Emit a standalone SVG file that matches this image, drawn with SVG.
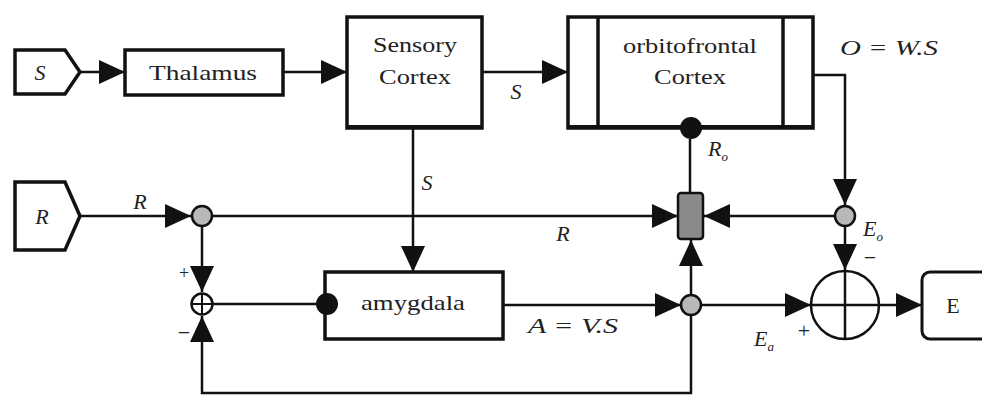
<svg xmlns="http://www.w3.org/2000/svg" width="982" height="398" viewBox="0 0 982 398" font-family="Liberation Serif, DejaVu Serif, serif">
<style>
.box{fill:#fff;stroke:#111;stroke-width:3.5}
.ln{fill:none;stroke:#111;stroke-width:2.5}
.jn{fill:#b8b8b8;stroke:#111;stroke-width:2.5}
.t{font-size:22px;fill:#222;text-anchor:middle}
.i{font-size:22px;font-style:italic;fill:#222}
.sub{font-size:13px}
</style>
<defs>
<marker id="ah" markerUnits="userSpaceOnUse" markerWidth="26" markerHeight="24" refX="26" refY="12" orient="auto">
<path d="M0,0 L26,12 L0,24 z" fill="#111"/>
</marker>
</defs>
<rect width="982" height="398" fill="#fff"/>

<g id="connectors">
<line class="ln" x1="80" y1="72" x2="125" y2="72" marker-end="url(#ah)"/>
<line class="ln" x1="283" y1="72" x2="347" y2="72" marker-end="url(#ah)"/>
<line class="ln" x1="482" y1="72" x2="568" y2="72" marker-end="url(#ah)"/>
<line class="ln" x1="413" y1="129" x2="413" y2="272" marker-end="url(#ah)"/>
<path class="ln" d="M813,75 H845 V205" marker-end="url(#ah)"/>
<line class="ln" x1="80" y1="216" x2="191" y2="216" marker-end="url(#ah)"/>
<line class="ln" x1="212" y1="216" x2="678" y2="216" marker-end="url(#ah)"/>
<line class="ln" x1="835" y1="216" x2="704" y2="216" marker-end="url(#ah)"/>
<line class="ln" x1="691" y1="295" x2="691" y2="240" marker-end="url(#ah)"/>
<line class="ln" x1="690" y1="139" x2="690" y2="193"/>
<line class="ln" x1="202" y1="226" x2="202" y2="292" marker-end="url(#ah)"/>
<path class="ln" d="M691,315 V393 H202 V316" marker-end="url(#ah)"/>
<line class="ln" x1="213" y1="304" x2="316" y2="304"/>
<line class="ln" x1="503" y1="305" x2="681" y2="305" marker-end="url(#ah)"/>
<line class="ln" x1="701" y1="305" x2="811" y2="305" marker-end="url(#ah)"/>
<line class="ln" x1="845" y1="226" x2="845" y2="270" marker-end="url(#ah)"/>
<line class="ln" x1="879" y1="305" x2="922" y2="305" marker-end="url(#ah)"/>
</g>

<g id="input-S">
<path class="box" d="M15,50 H65 L80,72 L65,94 H15 Z"/>
<text class="i" x="40" y="80" text-anchor="middle">S</text>
</g>

<g id="thalamus">
<rect class="box" x="125" y="50" width="158" height="45"/>
<text class="t" x="203" y="80" textLength="108" lengthAdjust="spacingAndGlyphs">Thalamus</text>
</g>

<g id="sensory-cortex">
<rect class="box" x="347" y="17" width="135" height="111"/>
<line x1="347" y1="127" x2="482" y2="127" stroke="#111" stroke-width="4"/>
<text class="t" x="415" y="52" textLength="84" lengthAdjust="spacingAndGlyphs">Sensory</text>
<text class="t" x="415" y="84" textLength="72" lengthAdjust="spacingAndGlyphs">Cortex</text>
</g>

<g id="orbitofrontal-cortex">
<rect class="box" x="568" y="17" width="245" height="111"/>
<line x1="568" y1="127" x2="813" y2="127" stroke="#111" stroke-width="4"/>
<line x1="598" y1="17" x2="598" y2="128" stroke="#111" stroke-width="3.5"/>
<line x1="783" y1="17" x2="783" y2="128" stroke="#111" stroke-width="3.5"/>
<text class="t" x="690" y="53" textLength="134" lengthAdjust="spacingAndGlyphs">orbitofrontal</text>
<text class="t" x="690" y="84" textLength="72" lengthAdjust="spacingAndGlyphs">Cortex</text>
<circle cx="691" cy="128" r="11" fill="#111"/>
</g>

<g id="input-R">
<path class="box" d="M15,182 H65 L80,216 L65,250 H15 Z"/>
<text class="i" x="42" y="224" text-anchor="middle">R</text>
</g>

<g id="junction-R">
<circle class="jn" cx="202" cy="216" r="10"/>
</g>

<g id="sum-amygdala">
<circle cx="202" cy="304" r="10.5" fill="#fff" stroke="#111" stroke-width="2.5"/>
<line x1="191.5" y1="304" x2="212.5" y2="304" stroke="#111" stroke-width="2"/>
<line x1="202" y1="293.5" x2="202" y2="314.5" stroke="#111" stroke-width="2"/>
</g>

<g id="amygdala">
<rect class="box" x="325" y="272" width="178" height="67"/>
<circle cx="327" cy="304" r="11" fill="#111"/>
<text class="t" x="413" y="310" textLength="104" lengthAdjust="spacingAndGlyphs">amygdala</text>
</g>

<g id="gate">
<rect x="678" y="193" width="25" height="46" rx="3" fill="#8a8a8a" stroke="#111" stroke-width="2.5"/>
</g>

<g id="junction-A">
<circle class="jn" cx="691" cy="305" r="10"/>
</g>

<g id="junction-Eo">
<circle class="jn" cx="845" cy="216" r="10"/>
</g>

<g id="sum-E">
<circle cx="845" cy="305" r="34" fill="#fff" stroke="#111" stroke-width="2.5"/>
<line x1="811" y1="305" x2="879" y2="305" stroke="#111" stroke-width="2.5"/>
<line x1="845" y1="271" x2="845" y2="339" stroke="#111" stroke-width="2.5"/>
</g>

<g id="output-E">
<rect x="922" y="272" width="80" height="67" rx="8" fill="#fff" stroke="#111" stroke-width="3"/>
<text class="t" x="953" y="313">E</text>
</g>

<g id="labels">
<text class="i" x="516" y="99" text-anchor="middle">S</text>
<text class="i" x="427" y="190" text-anchor="middle">S</text>
<text class="i" x="140" y="209" text-anchor="middle">R</text>
<text class="i" x="563" y="241" text-anchor="middle">R</text>
<text class="i" x="840" y="55" textLength="98" lengthAdjust="spacingAndGlyphs">O = W.S</text>
<text class="i" x="528" y="333" textLength="90" lengthAdjust="spacingAndGlyphs">A = V.S</text>
<text class="i" x="708" y="156">R<tspan class="sub" dy="5">o</tspan></text>
<text class="i" x="863" y="236">E<tspan class="sub" dy="5">o</tspan></text>
<text class="i" x="754" y="346">E<tspan class="sub" dy="5">a</tspan></text>
<text class="t" x="870" y="265">−</text>
<text class="t" x="804" y="338">+</text>
<text class="t" x="184" y="279" style="font-size:18px">+</text>
<text class="t" x="184" y="340">−</text>
</g>
</svg>
